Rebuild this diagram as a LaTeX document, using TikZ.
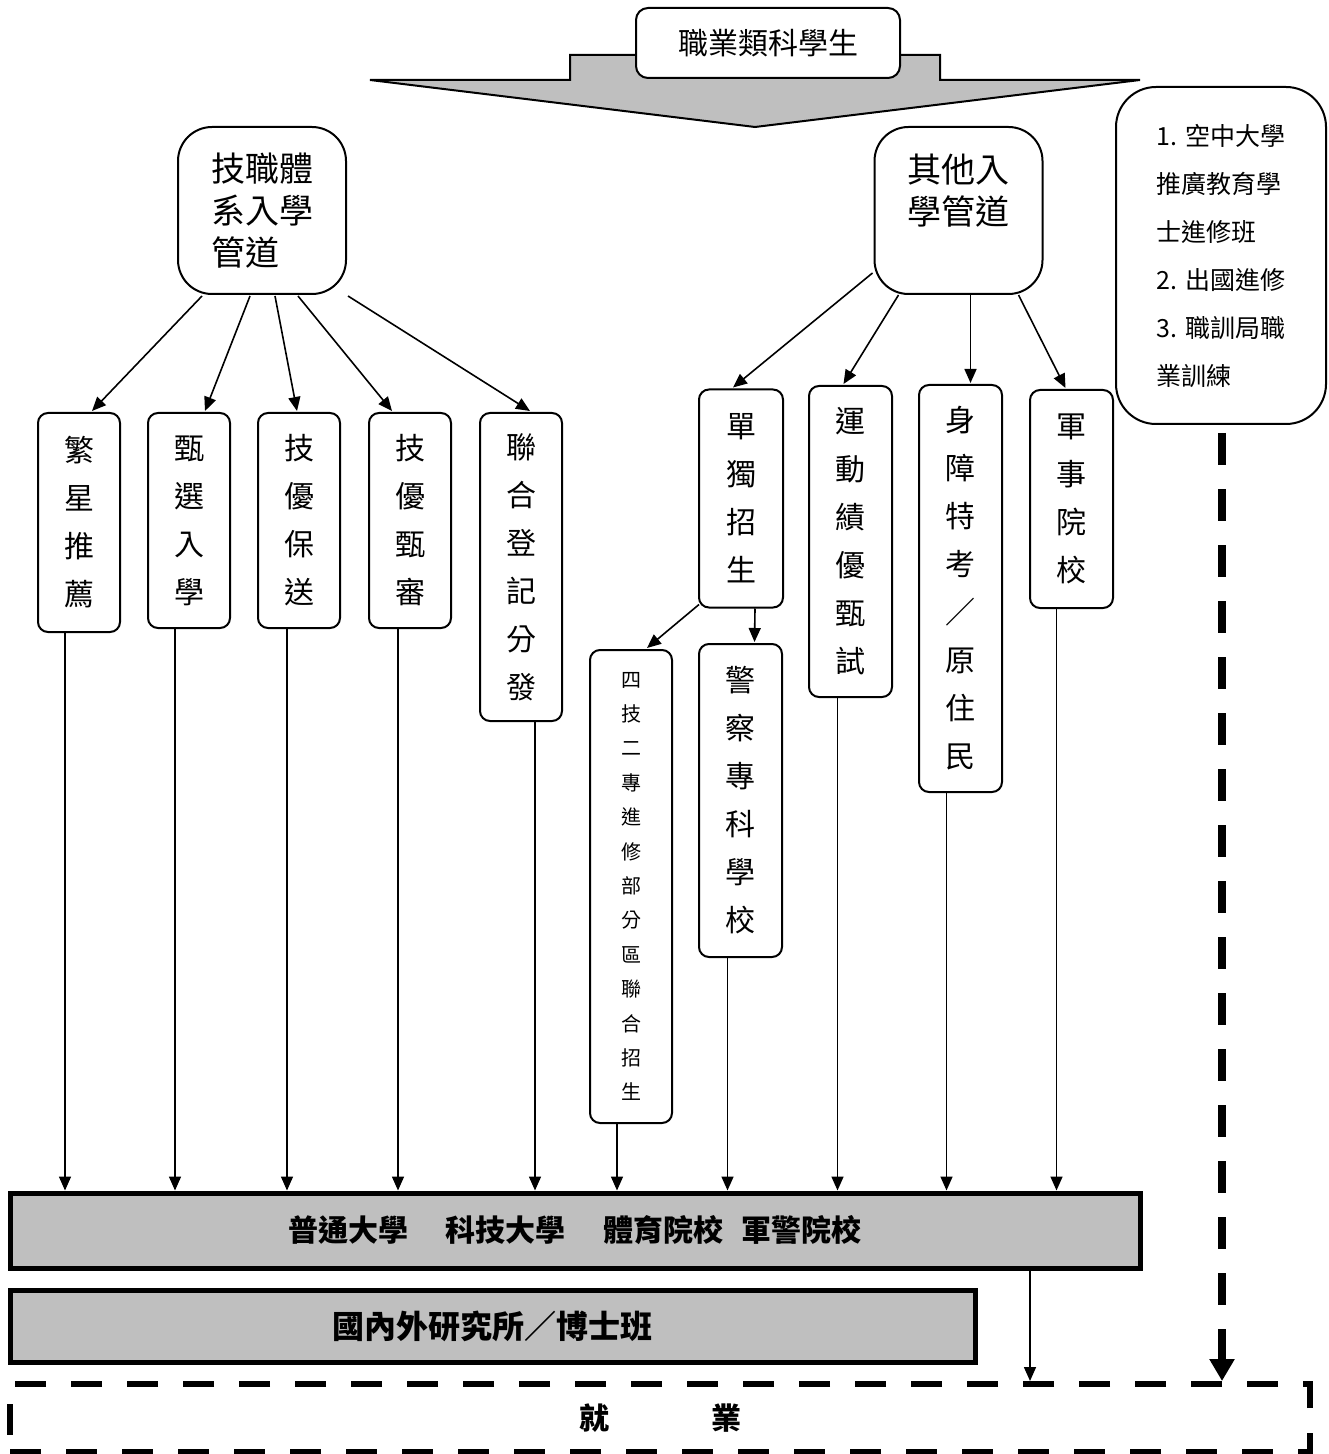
\documentclass[tikz,border=0pt]{standalone}
\usepackage{fontspec}
\setmainfont{Noto Sans CJK TC}
\usetikzlibrary{arrows.meta,calc}

\begin{document}
\begin{tikzpicture}[x=0.5pt,y=-0.5pt,
  vbox/.style={draw,line width=1pt,rounded corners=5pt,fill=white,inner sep=0pt,
    minimum width=41pt,align=center,font=\fontsize{15}{24}\selectfont},
  hub/.style={draw,line width=1pt,rounded corners=17pt,fill=white,inner sep=0pt,
    minimum width=84pt,minimum height=83.5pt,align=left,font=\fontsize{17}{21}\selectfont},
  bar/.style={draw,line width=2.5pt,fill=black!25,inner sep=0pt,font=\fontsize{15}{18}\selectfont\bfseries},
  arr/.style={-{Triangle[length=7pt,width=6pt]},line width=0.8pt},
  bigdash/.style={line width=4pt,dash pattern=on 16pt off 12pt,-{Triangle[length=11pt,width=12pt]}},
]
\useasboundingbox (0,0) rectangle (1328,1454);

% Students and the big arrow
\draw[line width=1pt,fill=black!25] (370,80) -- (570,80) -- (570,55) -- (940,55) -- (940,80)
  -- (1140,80) -- (755,127) -- cycle;
\node[draw,line width=1pt,rounded corners=6pt,fill=white,minimum width=132pt,minimum height=35pt,
  font=\fontsize{15}{18}\selectfont] (top) at (768,43) {職業類科學生};

% Two hubs and the note
\node[hub] (hubL) at (262,210.5) {技職體\\系入學\\管道};
\node[hub] (hubR) at (958.5,210.5) {其他入\\學管道\\~};
\node[draw,line width=1pt,rounded corners=20pt,fill=white,inner sep=0pt,minimum width=105pt,
  minimum height=168.5pt,align=left,font=\fontsize{12.5}{24}\selectfont] (note) at (1221,255.5)
  {1. 空中大學\\推廣教育學\\士進修班\\2. 出國進修\\3. 職訓局職\\業訓練};

% Left children
\node[vbox,minimum height=109.5pt] (star) at (79,522.5) {繁\\星\\推\\薦};
\node[vbox,minimum height=107.5pt] (select) at (189,520.5) {甄\\選\\入\\學};
\node[vbox,minimum height=107.5pt] (skill) at (299,520.5) {技\\優\\保\\送};
\node[vbox,minimum height=107.5pt] (skillrev) at (410,520.5) {技\\優\\甄\\審};
\node[vbox,minimum height=154pt] (joint) at (521,567) {聯\\合\\登\\記\\分\\發};

% Right children
\node[vbox,minimum height=109pt,minimum width=42pt] (solo) at (741,498.5) {單\\獨\\招\\生};
\node[vbox,minimum height=155.5pt,minimum width=41.5pt] (sport) at (850.5,541.5) {運\\動\\績\\優\\甄\\試};
\node[vbox,minimum height=203.5pt,minimum width=41.5pt] (special) at (960.5,588.5) {身\\障\\特\\考\\／\\原\\住\\民};
\node[vbox,minimum height=109pt,minimum width=41.5pt] (military) at (1071.5,499) {軍\\事\\院\\校};
\node[vbox,minimum height=236.5pt,font=\fontsize{10}{17.2}\selectfont] (night) at (631,886.5)
  {四\\技\\二\\專\\進\\修\\部\\分\\區\\聯\\合\\招\\生};
\node[vbox,minimum height=156.5pt,minimum width=41.5pt] (police) at (740.5,800.5) {警\\察\\專\\科\\學\\校};

% Schools, graduate study, work
\node[bar,minimum width=565pt,minimum height=37.5pt] (uni) at (575,1230.5)
  {普通大學\hspace{19pt}科技大學\hspace{19pt}體育院校\hspace{9pt}軍警院校};
\node[bar,minimum width=482.5pt,minimum height=36pt,font=\fontsize{16}{18}\selectfont\bfseries] (grad) at (492.5,1326)
  {國內外研究所／博士班};
\node[draw,line width=3pt,dash pattern=on 15.5pt off 12.5pt,minimum width=650pt,minimum height=34pt,
  font=\fontsize{15}{18}\selectfont\bfseries] (job) at (660,1418) {就\hspace{51pt}業};

% Hub arrows
\draw[arr] ($(hubL.south)+(-60,1)$) -- ($(star.north)+(13,-1)$);
\draw[arr] ($(hubL.south)+(-12,1)$) -- ($(select.north)+(16,-1)$);
\draw[arr] ($(hubL.south)+(13,1)$) -- ($(skill.north)+(-2,-1)$);
\draw[arr] ($(hubL.south)+(36,1)$) -- ($(skillrev.north)+(-18,-1)$);
\draw[arr] ($(hubL.south east)+(1,1)$) -- ($(joint.north)+(9,-1)$);
\draw[arr] ($(hubR.south west)+(-1,-22)$) -- ($(solo.north)+(-8,-1)$);
\draw[arr] ($(hubR.south)+(-60,0)$) -- ($(sport.north)+(-7,-1)$);
\draw[arr] ($(hubR.south)+(12,0)$) -- ($(special.north)+(10,-1)$);
\draw[arr] ($(hubR.south)+(60,0)$) -- ($(military.north)+(-6,-1)$);
\draw[arr] ($(solo.south west)+(1,-4)$) -- ($(night.north)+(16,-1)$);
\draw[arr] ($(solo.south)+(14,0)$) -- ($(police.north)+(14,-1)$);

% Down to the schools
\foreach \n/\dx in {star/-14,select/-14,skill/-12,skillrev/-12,joint/14,night/-14,police/-13,sport/-13,special/-14,military/-15}
  \draw[arr] ([xshift=\dx*0.5pt]\n.south) -- ([xshift=\dx*0.5pt]\n.south |- uni.north);

% To work
\coordinate (unijob) at ($(uni.south)+(455,0)$);
\draw[arr] (unijob) -- (unijob |- job.north);
\draw[bigdash] ([xshift=0.5pt,yshift=-4pt]note.south) -- ([xshift=0.5pt]note.south |- job.north);

\end{tikzpicture}
\end{document}
